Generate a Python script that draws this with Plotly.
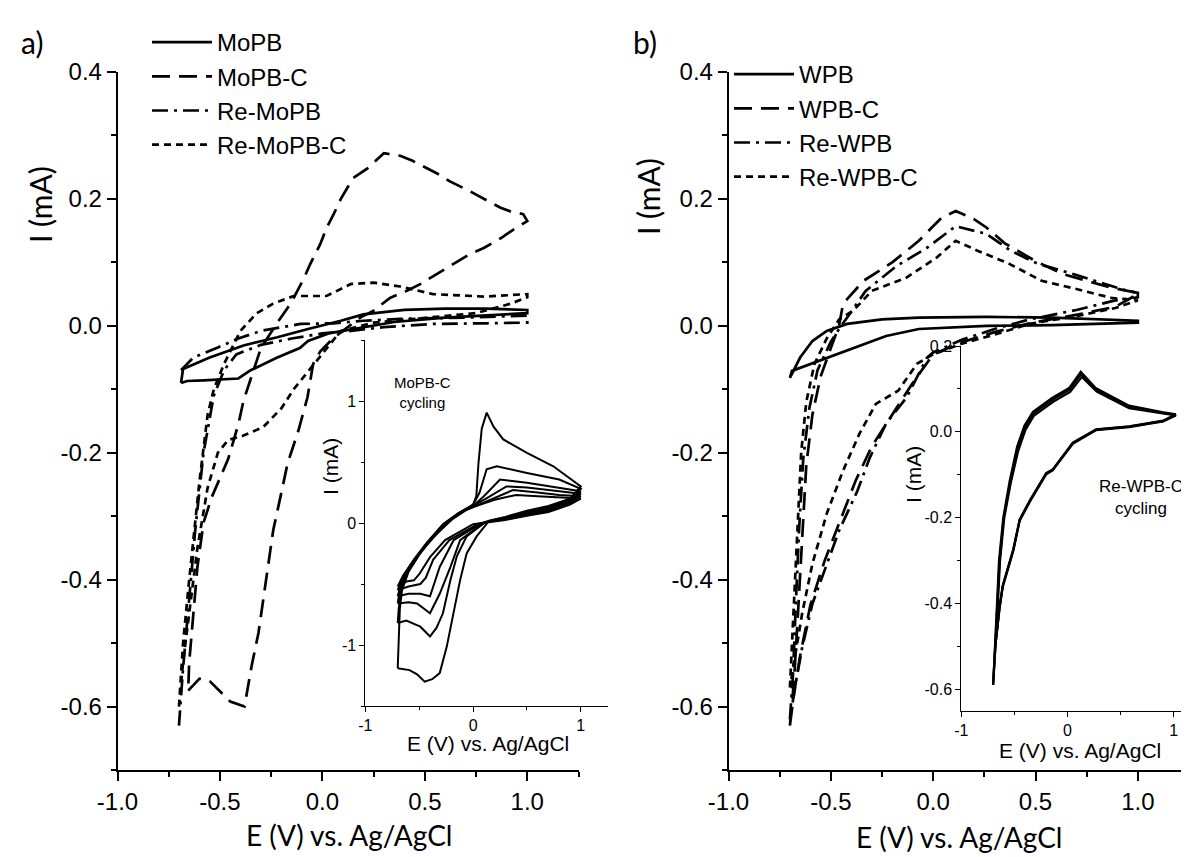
import plotly.graph_objects as go

# ---- panel a: Mo samples, E (V) vs Ag/AgCl and I (mA) ----
mopb_e = [-0.69, -0.66, -0.58, -0.5, -0.41, -0.35, -0.22, -0.11, -0.07, 0.03, 0.185, 0.35, 0.6, 0.8, 1.0,
          1.0, 0.8, 0.6, 0.4, 0.2, 0.09, -0.07, -0.22, -0.385, -0.55, -0.68, -0.69]
mopb_i = [-0.09, -0.087, -0.086, -0.085, -0.083, -0.07, -0.05, -0.035, -0.024, -0.012, -0.003, 0.006, 0.013, 0.017, 0.02,
          0.025, 0.027, 0.027, 0.025, 0.018, 0.008, -0.005, -0.018, -0.031, -0.05, -0.068, -0.09]

mopbc_e = [-0.655, -0.6, -0.55, -0.45, -0.38, -0.346, -0.312, -0.288, -0.263, -0.24, -0.205, -0.17, -0.117, -0.073,
           -0.045, -0.01, 0.055, 0.185, 0.25, 0.33, 0.41, 0.48, 0.56, 0.64, 0.72, 0.79, 0.87, 0.92, 1.0,
           0.98, 0.92, 0.87, 0.79, 0.72, 0.62, 0.56, 0.44, 0.38, 0.3, 0.22, 0.15, 0.12, 0.09, 0.055, 0.02, -0.01,
           -0.06, -0.09, -0.14, -0.17, -0.22, -0.3, -0.36, -0.385, -0.41, -0.46, -0.54, -0.58, -0.61, -0.63, -0.65, -0.655]
mopbc_i = [-0.575, -0.556, -0.56, -0.592, -0.6, -0.537, -0.484, -0.432, -0.377, -0.322, -0.27, -0.217, -0.165, -0.113,
           -0.06, -0.04, -0.019, 0.013, 0.024, 0.044, 0.055, 0.066, 0.082, 0.097, 0.113, 0.123, 0.138, 0.149, 0.165,
           0.176, 0.18, 0.186, 0.2, 0.212, 0.228, 0.24, 0.26, 0.268, 0.272, 0.248, 0.233, 0.217, 0.2, 0.176, 0.154, 0.129,
           0.097, 0.075, 0.044, 0.028, 0.005, -0.035, -0.094, -0.118, -0.155, -0.21, -0.27, -0.31, -0.38, -0.46, -0.53, -0.575]

remopb_e = [-0.69, -0.63, -0.51, -0.41, -0.3, -0.107, 0.055, 0.2, 0.38, 0.71, 1.0,
            1.0, 0.8, 0.54, 0.3, 0.14, 0.0, -0.15, -0.3, -0.42, -0.48, -0.53, -0.58, -0.62, -0.65, -0.68, -0.7]
remopb_i = [-0.07, -0.05, -0.034, -0.02, -0.008, 0.003, 0.004, 0.008, 0.011, 0.013, 0.016,
            0.005, 0.004, 0.003, -0.002, -0.008, -0.012, -0.02, -0.03, -0.045, -0.07, -0.11, -0.2, -0.32, -0.43, -0.54, -0.63]

remopbc_e = [-0.7, -0.68, -0.65, -0.62, -0.6, -0.56, -0.53, -0.48, -0.4, -0.32, -0.24, -0.14, 0.02, 0.14, 0.25, 0.38,
             0.54, 0.79, 1.0, 1.0, 0.92, 0.75, 0.5, 0.25, 0.09, -0.04, -0.14, -0.2, -0.29, -0.385, -0.46, -0.51, -0.56,
             -0.61, -0.65, -0.68, -0.7]
remopbc_i = [-0.6, -0.5, -0.4, -0.3, -0.245, -0.14, -0.1, -0.06, -0.008, 0.02, 0.035, 0.047, 0.047, 0.066, 0.068, 0.062,
             0.05, 0.046, 0.05, 0.045, 0.035, 0.02, 0.012, 0.005, -0.008, -0.06, -0.1, -0.13, -0.16, -0.173, -0.18, -0.2,
             -0.255, -0.35, -0.45, -0.53, -0.6]

# ---- panel b: W samples ----
wpb_e = [-0.7, -0.65, -0.59, -0.52, -0.42, -0.25, -0.07, 0.26, 0.58, 0.8, 1.0,
         1.0, 0.8, 0.58, 0.26, -0.07, -0.23, -0.39, -0.55, -0.69, -0.7]
wpb_i = [-0.082, -0.05, -0.024, -0.008, 0.003, 0.01, 0.013, 0.014, 0.013, 0.01, 0.008,
         0.005, 0.003, 0.001, 0.0, -0.005, -0.016, -0.035, -0.055, -0.071, -0.082]

wpbc_e = [-0.7, -0.68, -0.66, -0.64, -0.62, -0.59, -0.55, -0.5, -0.46, -0.44, -0.34, -0.2, -0.07, 0.04, 0.11, 0.19,
          0.26, 0.35, 0.5, 0.63, 0.87, 1.0,
          1.0, 0.89, 0.71, 0.47, 0.3, 0.14, 0.0, -0.1, -0.2, -0.3, -0.38, -0.46, -0.53, -0.6, -0.65, -0.68, -0.7]
wpbc_i = [-0.63, -0.56, -0.45, -0.33, -0.22, -0.14, -0.08, -0.035, 0.0, 0.035, 0.071, 0.1, 0.134, 0.17, 0.181, 0.17,
          0.155, 0.13, 0.102, 0.082, 0.06, 0.052,
          0.05, 0.03, 0.018, 0.004, -0.01, -0.026, -0.045, -0.09, -0.14, -0.19, -0.245, -0.31, -0.37, -0.44, -0.52, -0.58, -0.63]

rewpb_e = [-0.7, -0.685, -0.67, -0.655, -0.635, -0.605, -0.565, -0.5, -0.45, -0.42, -0.33, -0.18, -0.03, 0.11, 0.26,
           0.38, 0.51, 0.7, 0.95, 1.0,
           1.0, 0.89, 0.7, 0.47, 0.3, 0.14, 0.0, -0.03, -0.13, -0.23, -0.31, -0.37, -0.46, -0.52, -0.59, -0.64, -0.67, -0.7]
rewpb_i = [-0.62, -0.55, -0.43, -0.32, -0.21, -0.13, -0.07, -0.025, 0.0, 0.013, 0.055, 0.094, 0.123, 0.157, 0.145,
           0.118, 0.098, 0.08, 0.055, 0.052,
           0.045, 0.04, 0.025, 0.01, -0.005, -0.022, -0.042, -0.05, -0.113, -0.154, -0.208, -0.26, -0.323, -0.375, -0.438,
           -0.507, -0.56, -0.62]

rewpbc_e = [-0.7, -0.69, -0.675, -0.66, -0.645, -0.62, -0.58, -0.52, -0.46, -0.39, -0.3, -0.13, 0.015, 0.11, 0.22,
            0.37, 0.53, 0.7, 0.87, 1.0,
            1.0, 0.89, 0.71, 0.47, 0.31, 0.14, 0.0, -0.08, -0.17, -0.28, -0.36, -0.44, -0.52, -0.59, -0.64, -0.68, -0.7]
rewpbc_i = [-0.57, -0.5, -0.4, -0.3, -0.2, -0.12, -0.06, -0.02, 0.01, 0.024, 0.055, 0.076, 0.107, 0.134, 0.118,
            0.098, 0.071, 0.058, 0.044, 0.04,
            0.04, 0.028, 0.016, 0.003, -0.013, -0.028, -0.045, -0.06, -0.102, -0.123, -0.17, -0.228, -0.296, -0.375,
            -0.453, -0.532, -0.57]

# ---- inset a: MoPB-C cycling (6 cycles) ----
cyc_a_e = [
    [-0.7, -0.69, -0.68, -0.66, -0.6, -0.5, -0.38, -0.22, -0.08, 0.0, 0.03, 0.05, 0.08, 0.126, 0.19, 0.28, 0.5, 0.745,
     1.0, 0.9, 0.7, 0.5, 0.3, 0.15, 0.033, -0.06, -0.12, -0.18, -0.245, -0.31, -0.38, -0.45, -0.52, -0.59, -0.65, -0.7],
    [-0.7, -0.69, -0.67, -0.61, -0.51, -0.39, -0.24, -0.1, 0.0, 0.06, 0.126, 0.22, 0.5, 0.8, 1.0, 0.9, 0.7, 0.5, 0.3,
     0.12, -0.06, -0.15, -0.21, -0.28, -0.34, -0.4, -0.49, -0.62, -0.7],
    [-0.7, -0.68, -0.63, -0.53, -0.41, -0.26, -0.12, 0.0, 0.1, 0.25, 0.5, 0.8, 1.0, 0.9, 0.7, 0.5, 0.3, 0.1, -0.12,
     -0.21, -0.31, -0.4, -0.52, -0.6, -0.7],
    [-0.7, -0.67, -0.62, -0.55, -0.43, -0.28, -0.14, 0.0, 0.12, 0.31, 0.5, 0.8, 1.0, 0.9, 0.7, 0.5, 0.3, 0.08, -0.18,
     -0.31, -0.4, -0.49, -0.6, -0.7],
    [-0.7, -0.66, -0.6, -0.5, -0.35, -0.2, -0.08, 0.0, 0.15, 0.37, 0.6, 0.8, 1.0, 0.9, 0.7, 0.5, 0.3, 0.05, -0.22,
     -0.37, -0.44, -0.49, -0.6, -0.7],
    [-0.7, -0.65, -0.58, -0.47, -0.33, -0.18, -0.06, 0.0, 0.2, 0.4, 0.6, 0.8, 1.0, 0.9, 0.7, 0.5, 0.3, 0.0, -0.26,
     -0.4, -0.5, -0.55, -0.62, -0.7],
]
cyc_a_i = [
    [-1.19, -0.9, -0.7, -0.55, -0.4, -0.26, -0.12, 0.02, 0.1, 0.15, 0.22, 0.49, 0.77, 0.905, 0.79, 0.685, 0.575, 0.465,
     0.3, 0.2, 0.14, 0.1, 0.05, 0.02, -0.11, -0.25, -0.466, -0.74, -1.015, -1.23, -1.28, -1.3, -1.24, -1.206, -1.2, -1.19],
    [-0.82, -0.7, -0.56, -0.41, -0.27, -0.13, 0.01, 0.1, 0.15, 0.25, 0.44, 0.465, 0.41, 0.356, 0.28, 0.19, 0.13, 0.09,
     0.045, 0.01, -0.11, -0.27, -0.466, -0.74, -0.86, -0.93, -0.85, -0.8, -0.82],
    [-0.66, -0.55, -0.43, -0.29, -0.15, 0.0, 0.09, 0.14, 0.22, 0.356, 0.33, 0.29, 0.26, 0.18, 0.12, 0.08, 0.04, 0.005,
     -0.14, -0.36, -0.58, -0.74, -0.66, -0.65, -0.66],
    [-0.6, -0.5, -0.4, -0.3, -0.16, -0.01, 0.08, 0.14, 0.2, 0.3, 0.29, 0.26, 0.24, 0.17, 0.11, 0.07, 0.035, 0.0, -0.14,
     -0.36, -0.6, -0.58, -0.58, -0.6],
    [-0.55, -0.46, -0.37, -0.25, -0.1, 0.03, 0.1, 0.13, 0.19, 0.27, 0.25, 0.23, 0.22, 0.16, 0.1, 0.065, 0.03, -0.005,
     -0.14, -0.3, -0.45, -0.5, -0.52, -0.55],
    [-0.52, -0.43, -0.34, -0.22, -0.08, 0.04, 0.11, 0.13, 0.19, 0.23, 0.22, 0.21, 0.2, 0.15, 0.09, 0.06, 0.025, -0.01,
     -0.14, -0.28, -0.42, -0.47, -0.48, -0.52],
]

# ---- inset b: Re-WPB-C cycling (3 nearly overlapping cycles) ----
cyc_b_e = [
    [-0.7, -0.67, -0.64, -0.6, -0.54, -0.47, -0.4, -0.32, -0.14, 0.02, 0.13, 0.27, 0.58, 0.89, 1.02,
     0.9, 0.58, 0.27, 0.05, -0.14, -0.2, -0.35, -0.45, -0.51, -0.61, -0.64, -0.68, -0.7],
    [-0.7, -0.665, -0.635, -0.595, -0.535, -0.465, -0.395, -0.315, -0.135, 0.025, 0.135, 0.275, 0.58, 0.89, 1.02,
     0.9, 0.58, 0.27, 0.05, -0.14, -0.2, -0.35, -0.45, -0.51, -0.61, -0.64, -0.68, -0.7],
    [-0.7, -0.675, -0.645, -0.605, -0.545, -0.475, -0.405, -0.325, -0.145, 0.015, 0.125, 0.265, 0.58, 0.89, 1.02,
     0.9, 0.58, 0.27, 0.05, -0.14, -0.2, -0.35, -0.45, -0.51, -0.61, -0.64, -0.68, -0.7],
]
cyc_b_i = [
    [-0.59, -0.45, -0.3, -0.2, -0.12, -0.04, 0.01, 0.043, 0.075, 0.098, 0.135, 0.098, 0.058, 0.044, 0.04,
     0.025, 0.012, 0.005, -0.026, -0.089, -0.097, -0.159, -0.205, -0.275, -0.36, -0.41, -0.5, -0.59],
    [-0.585, -0.45, -0.3, -0.2, -0.12, -0.045, 0.005, 0.038, 0.07, 0.093, 0.128, 0.094, 0.055, 0.042, 0.038,
     0.024, 0.011, 0.004, -0.028, -0.09, -0.099, -0.161, -0.207, -0.277, -0.362, -0.412, -0.5, -0.585],
    [-0.59, -0.45, -0.3, -0.2, -0.115, -0.035, 0.015, 0.047, 0.079, 0.102, 0.14, 0.102, 0.061, 0.046, 0.041,
     0.026, 0.013, 0.006, -0.025, -0.088, -0.096, -0.158, -0.204, -0.273, -0.358, -0.408, -0.5, -0.59],
]

# tick labels (hyphen minus as in the original figure)
main_xticks = [-1.0, -0.5, 0.0, 0.5, 1.0]
main_xlabels = ["-1.0", "-0.5", "0.0", "0.5", "1.0"]
main_yticks = [-0.6, -0.4, -0.2, 0.0, 0.2, 0.4]
main_ylabels = ["-0.6", "-0.4", "-0.2", "0.0", "0.2", "0.4"]
inset_xticks = [-1, 0, 1]
inset_xlabels = ["-1", "0", "1"]
inset_a_yticks = [-1, 0, 1]
inset_a_ylabels = ["-1", "0", "1"]
inset_b_yticks = [-0.6, -0.4, -0.2, 0.0, 0.2]
inset_b_ylabels = ["-0.6", "-0.4", "-0.2", "0.0", "0.2"]

# the page puts the plot 8px in from the top-left corner, so the figure is 8px smaller
OFF = 8
W, H = 1189 - OFF, 857 - OFF
ARIAL = "Liberation Sans, Arial, sans-serif"
TITLE = "Lato, Open Sans, sans-serif"


def px(x):
    return (x - OFF) / W


def py(y):
    return 1 - (y - OFF) / H


DASH = {"solid": "solid", "long": "18px,9px", "dashdot": "16px,6px,3px,6px", "short": "7px,5px"}


def cv(x, y, name, dash, xa, ya, legend="legend", width=2.7, show=True):
    return go.Scatter(x=x, y=y, mode="lines", name=name, xaxis=xa, yaxis=ya,
                      line=dict(color="black", width=width, dash=DASH[dash]),
                      legend=legend, showlegend=show, hoverinfo="skip")


fig = go.Figure()

# panel a
fig.add_trace(cv(mopb_e, mopb_i, "MoPB", "solid", "x", "y"))
fig.add_trace(cv(mopbc_e, mopbc_i, "MoPB-C", "long", "x", "y"))
fig.add_trace(cv(remopb_e, remopb_i, "Re-MoPB", "dashdot", "x", "y"))
fig.add_trace(cv(remopbc_e, remopbc_i, "Re-MoPB-C", "short", "x", "y"))

# panel b
fig.add_trace(cv(wpb_e, wpb_i, "WPB", "solid", "x2", "y2", "legend2"))
fig.add_trace(cv(wpbc_e, wpbc_i, "WPB-C", "long", "x2", "y2", "legend2"))
fig.add_trace(cv(rewpb_e, rewpb_i, "Re-WPB", "dashdot", "x2", "y2", "legend2"))
fig.add_trace(cv(rewpbc_e, rewpbc_i, "Re-WPB-C", "short", "x2", "y2", "legend2"))

# insets
for e, i in zip(cyc_a_e, cyc_a_i):
    fig.add_trace(cv(e, i, "MoPB-C cycle", "solid", "x3", "y3", width=2, show=False))
for e, i in zip(cyc_b_e, cyc_b_i):
    fig.add_trace(cv(e, i, "Re-WPB-C cycle", "solid", "x4", "y4", width=2.2, show=False))


def axis(domain, rng, vals, text, minor_dtick, anchor, size=24, lw=1.5, tlen=9, mlen=5):
    return dict(domain=domain, range=rng, anchor=anchor, automargin=False,
                showline=True, linecolor="black", linewidth=lw,
                ticks="outside", tickcolor="black", tickwidth=lw, ticklen=tlen,
                tickmode="array", tickvals=vals, ticktext=text,
                minor=dict(ticks="outside", tickmode="linear", tick0=0, dtick=minor_dtick,
                           ticklen=mlen, tickcolor="black", tickwidth=lw),
                showgrid=False, zeroline=False, fixedrange=True,
                tickfont=dict(family=ARIAL, size=size, color="black"))


ydom_main = [py(770), py(72)]
fig.update_layout(
    xaxis=axis([px(117.5), px(578.5)], [-1, 1.25], main_xticks, main_xlabels, 0.25, "y", lw=1.8),
    yaxis=axis(ydom_main, [-0.7, 0.4], main_yticks, main_ylabels, 0.1, "x"),
    xaxis2=axis([px(728.5), 1.0], [-1, 1.25], main_xticks, main_xlabels, 0.25, "y2", lw=1.8),
    yaxis2=axis(ydom_main, [-0.7, 0.4], main_yticks, main_ylabels, 0.1, "x2"),
    xaxis3=axis([px(365.4), px(607.7)], [-1, 1.25], inset_xticks, inset_xlabels, 0.5, "y3",
                size=16, lw=1, tlen=5, mlen=3),
    yaxis3=axis([py(706), py(340)], [-1.5, 1.5], inset_a_yticks, inset_a_ylabels, 0.5, "x3",
                size=16, lw=1, tlen=5, mlen=3),
    xaxis4=axis([px(961.3), 1.0], [-1, 1.144], inset_xticks, inset_xlabels, 0.5, "y4",
                size=16, lw=1, tlen=5, mlen=3),
    yaxis4=axis([py(710.7), py(346)], [-0.65, 0.2], inset_b_yticks, inset_b_ylabels, 0.1, "x4",
                size=16, lw=1, tlen=5, mlen=3),
)

legend_style = dict(xanchor="left", yanchor="top", bgcolor="rgba(0,0,0,0)", tracegroupgap=0,
                    itemwidth=60, font=dict(family=ARIAL, size=24, color="black"))
fig.update_layout(
    legend=dict(x=px(147), y=py(20), **legend_style),
    legend2=dict(x=px(729), y=py(52), **legend_style),
)

ann = []


def label(text, x, y, size, family=ARIAL, angle=0, xanchor="center"):
    ann.append(dict(text=text, x=px(x), y=py(y), xref="paper", yref="paper", showarrow=False,
                    textangle=angle, xanchor=xanchor, yanchor="middle",
                    font=dict(family=family, size=size, color="black")))


label("a)", 32, 42, 30, TITLE)
label("b)", 645, 42, 30, TITLE)
label("I (mA)", 40, 205, 30, TITLE, angle=-90)
label("I (mA)", 648, 197, 30, TITLE, angle=-90)
label("E (V) vs. Ag/AgCl", 349, 835, 28, TITLE)
label("E (V) vs. Ag/AgCl", 959, 837, 28, TITLE)
label("E (V) vs. Ag/AgCl", 488, 743, 21)
label("E (V) vs. Ag/AgCl", 1080, 750, 21)
label("I (mA)", 331, 467, 21, angle=-90)
label("I (mA)", 913, 475, 21, angle=-90)
label("MoPB-C<br>cycling", 392, 392, 15, xanchor="left")
label("Re-WPB-C<br>cycling", 1097, 497, 17, xanchor="left")

fig.update_layout(
    annotations=ann,
    width=W, height=H, autosize=False,
    margin=dict(l=0, r=0, t=0, b=0, autoexpand=False),
    paper_bgcolor="white", plot_bgcolor="rgba(0,0,0,0)",
    showlegend=True,
)

fig.write_html("out.html")
